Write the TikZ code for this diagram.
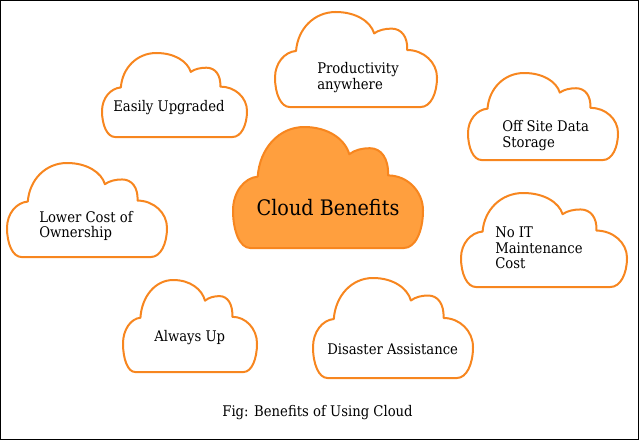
\documentclass[tikz,border=0pt]{standalone}
\usepackage{fontspec}
\setmainfont{DejaVu Serif}[FakeStretch=0.9]
\definecolor{cloudorange}{RGB}{247,134,31}
\definecolor{cloudfill}{RGB}{255,159,62}
\tikzset{
    cloudedge/.style={draw=cloudorange, line width=1.5pt, line join=round},
    cloudtext/.style={font=\fontsize{11}{11.8}\selectfont, align=left, anchor=west, inner sep=0pt},
}
% one cloud, drawn in a unit box and scaled: [extra style]{left}{bottom}{width}{height}
\newcommand{\cloudat}[5][]{%
    \draw[cloudedge, #1, shift={(#2,#3)}, xscale=#4, yscale=#5]
        (0.09,0) .. controls (0.036,0) and (0,0.14) .. (0,0.31)
        .. controls (0,0.46) and (0.058,0.58) .. (0.13,0.59)
        .. controls (0.14,0.82) and (0.24,1) .. (0.375,1)
        .. controls (0.5,1) and (0.59,0.9) .. (0.612,0.775)
        .. controls (0.64,0.81) and (0.68,0.825) .. (0.72,0.825)
        .. controls (0.78,0.825) and (0.82,0.74) .. (0.816,0.6)
        .. controls (0.917,0.6) and (1,0.47) .. (1,0.31)
        .. controls (1,0.14) and (0.96,0) .. (0.9,0)
        -- cycle;}
\begin{document}
\begin{tikzpicture}[x=0.75pt, y=0.75pt]
    \useasboundingbox (0,0) rectangle (641,440);
    % frame
    \draw[line width=0.9pt] (0.8,0.5) rectangle (638.5,439.5);
    % outlined clouds
    \foreach \cx/\cy/\cw/\ch in {102/303/145/84, 7/183/160/94, 275/333/162/95,
                                 468/280/150/87, 461/153/166/94, 123/68/134/92, 313/62/160/100}
        \cloudat{\cx}{\cy}{\cw}{\ch};
    % filled middle cloud
    \cloudat[fill=cloudfill]{233}{192}{190}{121}
    \node[font=\fontsize{16}{18}\selectfont, inner sep=0pt] (benefits) at (328,232) {Cloud Benefits};
    % texts in the clouds
    \node[cloudtext] (upgraded) at (113,332) {Easily Upgraded};
    \node[cloudtext] (lowercost) at (39,214) {Lower Cost of\\Ownership};
    \node[cloudtext] (productivity) at (317,362.5) {Productivity\\anywhere};
    \node[cloudtext] (offsite) at (502,304.5) {Off Site Data\\Storage};
    \node[cloudtext] (maintenance) at (495,192) {No IT\\Maintenance\\Cost};
    \node[cloudtext] (alwaysup) at (154,102) {Always Up};
    \node[cloudtext] (disaster) at (327,91) {Disaster Assistance};
    % caption
    \node[cloudtext, anchor=center] (caption) at (317.5,27) {Fig: Benefits of Using Cloud};
\end{tikzpicture}
\end{document}
